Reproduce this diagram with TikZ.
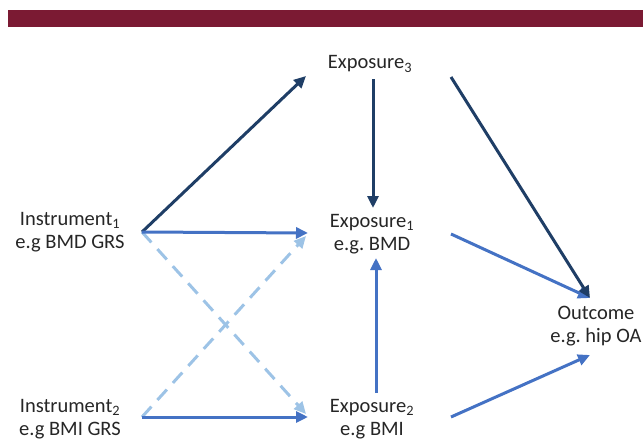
\documentclass[tikz,border=0pt]{standalone}
\usepackage{fontspec}
\setmainfont{Carlito}
\usetikzlibrary{arrows.meta}
\definecolor{barred}{HTML}{7B1A33}
\definecolor{navy}{HTML}{1F3E66}
\definecolor{midblue}{HTML}{4472C4}
\definecolor{lightblue}{HTML}{9DC3E6}
\frenchspacing
\begin{document}
\begin{tikzpicture}[x=1pt,y=-1pt,
  lbl/.style={align=center,font=\fontsize{20.5}{23}\selectfont,text=black!85,inner sep=0pt},
  arr/.style={line width=3pt,-{Triangle[length=12pt,width=11pt]}},
  dk/.style={arr,draw=navy},
  md/.style={arr,draw=midblue},
  lt/.style={arr,draw=lightblue,dash pattern=on 14pt off 9pt}]
\useasboundingbox (0,0) rectangle (643,439);
\fill[barred] (8,10) rectangle (643,27);
% nodes
\node[lbl] (ins1) at (70,232) {Instrument\textsubscript{1}\\e.g BMD GRS};
\node[lbl] (ins2) at (70,419) {Instrument\textsubscript{2}\\e.g BMI GRS};
\node[lbl] (exp3) at (370,64) {Exposure\textsubscript{3}};
\node[lbl] (exp1) at (372,234) {Exposure\textsubscript{1}\\e.g. BMD};
\node[lbl] (exp2) at (372,419) {Exposure\textsubscript{2}\\e.g BMI};
\node[lbl] (out) at (596,326) {Outcome\\e.g. hip OA};
% connector ends
\coordinate (i1a) at (142,232);
\coordinate (i2a) at (142,417);
\coordinate (e3in) at (306,76);
\coordinate (e1in) at (308,233);
\coordinate (e1inb) at (306,236);
\coordinate (e2in) at (308,417);
\coordinate (e2inb) at (306,414);
\coordinate (e3bot) at (373,79);
\coordinate (e1top) at (373,208);
\coordinate (e2top) at (376,393);
\coordinate (e1bot) at (376,258);
\coordinate (e3r) at (451,77);
\coordinate (e1r) at (451,234);
\coordinate (e2r) at (451,417);
\coordinate (outt) at (590,298);
\coordinate (outb) at (590,355);
% arrows
\draw[lt] (i1a) -- (e2inb);
\draw[lt] (i2a) -- (e1inb);
\draw[dk] (i1a) -- (e3in);
\draw[md] (i1a) -- (e1in);
\draw[md] (i2a) -- (e2in);
\draw[dk] (e3bot) -- (e1top);
\draw[md] (e2top) -- (e1bot);
\draw[md] (e1r) -- (outt);
\draw[dk] (e3r) -- (outt);
\draw[md] (e2r) -- (outb);
\end{tikzpicture}
\end{document}
